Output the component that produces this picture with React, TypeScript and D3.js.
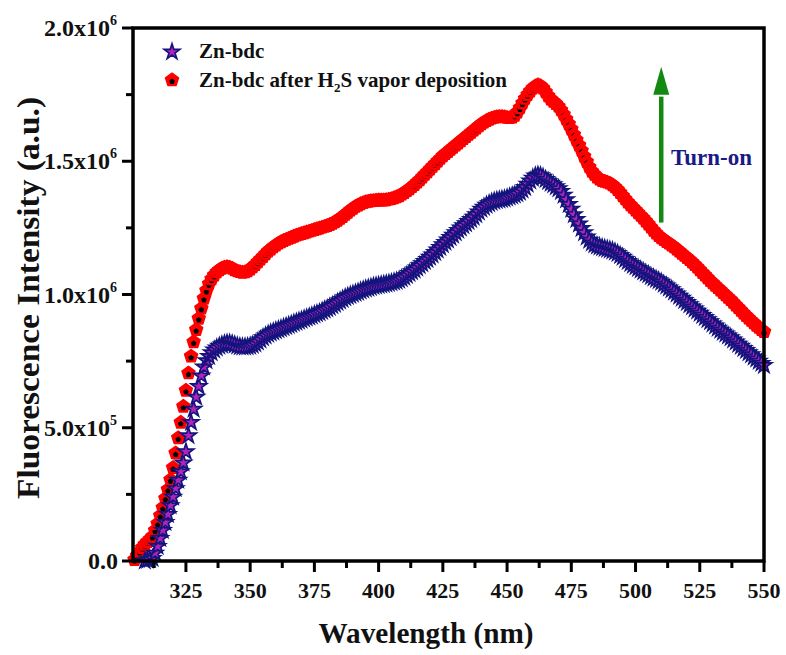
import React from 'react';
import * as d3 from 'd3';

const W = 786;
const H = 655;

// Wavelength grid start (1 nm sampling) and intensities in units of 10^3 a.u.
const RED_START = 305;
const RED_K = [
  5, 20, 35, 50, 62, 72, 82, 92, 115, 140,
  170, 200, 235, 268, 305, 350, 405, 462, 520, 580,
  640, 705, 768, 822, 868, 910, 948, 985, 1015, 1040,
  1058, 1072, 1084, 1092, 1098, 1102, 1104, 1102, 1098, 1092,
  1088, 1085, 1083, 1084, 1088, 1095, 1103, 1112, 1122, 1132,
  1142, 1152, 1162, 1170, 1178, 1185, 1192, 1197, 1202, 1206,
  1210, 1214, 1218, 1222, 1225, 1228, 1231, 1234, 1237, 1240,
  1243, 1246, 1249, 1252, 1255, 1258, 1262, 1266, 1272, 1278,
  1285, 1292, 1300, 1308, 1316, 1323, 1330, 1335, 1340, 1344,
  1347, 1349, 1351, 1352, 1353, 1354, 1354, 1354, 1355, 1357,
  1359, 1362, 1366, 1370, 1376, 1382, 1389, 1396, 1404, 1412,
  1421, 1430, 1440, 1450, 1460, 1470, 1480, 1490, 1500, 1510,
  1520, 1528, 1536, 1544, 1552, 1560, 1568, 1576, 1584, 1592,
  1600, 1608, 1616, 1624, 1632, 1640, 1646, 1652, 1657, 1661,
  1664, 1666, 1667, 1667, 1666, 1664, 1663, 1665, 1672, 1684,
  1700, 1718, 1735, 1750, 1763, 1774, 1782, 1786, 1783, 1774,
  1760, 1745, 1733, 1724, 1716, 1706, 1692, 1676, 1658, 1640,
  1620, 1600, 1580, 1560, 1540, 1518, 1498, 1478, 1462, 1450,
  1440, 1432, 1427, 1424, 1421, 1417, 1411, 1403, 1393, 1382,
  1370, 1358, 1346, 1336, 1326, 1316, 1306, 1296, 1286, 1275,
  1264, 1252, 1240, 1230, 1220, 1212, 1205, 1198, 1192, 1185,
  1178, 1170, 1162, 1154, 1146, 1138, 1130, 1121, 1112, 1102,
  1092, 1082, 1072, 1062, 1052, 1043, 1034, 1025, 1016, 1007,
  998, 989, 980, 970, 960, 950, 940, 930, 920, 911,
  902, 893, 884, 876, 868, 860,
];

const BLUE_START = 309;
const BLUE_K = [
  0, 3, 6, 10, 30, 55, 85, 115, 145, 175,
  208, 240, 272, 303, 335, 368, 410, 470, 520, 570,
  615, 655, 695, 728, 752, 768, 782, 792, 800, 806,
  811, 815, 817, 817, 815, 811, 807, 804, 803, 803,
  804, 806, 810, 815, 822, 830, 838, 845, 851, 856,
  860, 864, 868, 872, 876, 880, 884, 888, 892, 896,
  900, 904, 908, 912, 916, 920, 924, 928, 932, 937,
  942, 947, 952, 958, 964, 970, 976, 982, 988, 993,
  997, 1001, 1005, 1009, 1013, 1017, 1021, 1024, 1027, 1030,
  1032, 1034, 1036, 1038, 1040, 1042, 1044, 1047, 1050, 1054,
  1059, 1065, 1072, 1079, 1086, 1092, 1100, 1108, 1116, 1124,
  1132, 1140, 1149, 1158, 1167, 1177, 1187, 1196, 1205, 1214,
  1223, 1232, 1241, 1250, 1258, 1266, 1274, 1282, 1290, 1300,
  1310, 1320, 1328, 1335, 1341, 1346, 1350, 1353, 1355, 1357,
  1359, 1362, 1366, 1370, 1374, 1378, 1384, 1392, 1402, 1414,
  1426, 1437, 1445, 1448, 1446, 1440, 1432, 1424, 1418, 1412,
  1405, 1397, 1387, 1373, 1356, 1338, 1320, 1300, 1282, 1265,
  1248, 1232, 1216, 1204, 1194, 1187, 1182, 1179, 1176, 1173,
  1170, 1167, 1164, 1160, 1154, 1147, 1140, 1132, 1124, 1117,
  1110, 1104, 1098, 1092, 1086, 1080, 1074, 1068, 1062, 1057,
  1052, 1046, 1039, 1032, 1025, 1018, 1010, 1002, 994, 986,
  978, 970, 962, 954, 946, 938, 930, 922, 914, 906,
  898, 890, 882, 874, 866, 859, 852, 845, 838, 830,
  822, 814, 806, 798, 790, 782, 774, 766, 758, 750,
  742, 734,
];

const X_TICKS = [325, 350, 375, 400, 425, 450, 475, 500, 525, 550];
const X_MINOR = [312.5, 337.5, 362.5, 387.5, 412.5, 437.5, 462.5, 487.5, 512.5, 537.5];
const Y_TICKS = [0, 500000, 1000000, 1500000, 2000000];
const Y_MINOR = [250000, 750000, 1250000, 1750000];
const Y_TICK_MANT = ['0.0', '5.0x10', '1.0x10', '1.5x10', '2.0x10'];
const Y_TICK_EXP = ['', '5', '6', '6', '6'];

const SERIES_1 = 'Zn-bdc';
const SERIES_2_A = 'Zn-bdc after H';
const SERIES_2_SUB = '2';
const SERIES_2_B = 'S vapor deposition';
const X_TITLE = 'Wavelength (nm)';
const Y_TITLE = 'Fluorescence Intensity (a.u.)';
const ANNOT = 'Turn-on';

const FONT = '"Liberation Serif", "Times New Roman", serif';

function pentagonPath(r: number, dy = 0) {
  const pts: string[] = [];
  for (let k = 0; k < 5; k++) {
    const a = -Math.PI / 2 + (k * 2 * Math.PI) / 5;
    pts.push(`${(r * Math.cos(a)).toFixed(2)},${(r * Math.sin(a) + dy).toFixed(2)}`);
  }
  return 'M' + pts.join('L') + 'Z';
}

function RedMarker({ tx, ty }: { tx: number; ty: number }) {
  return (
    <g transform={`translate(${tx},${ty})`}>
      <path d={pentagonPath(6.8)} fill="#ff0000" stroke="#ff0000" strokeWidth={1.5} strokeLinejoin="round" />
      <path d={pentagonPath(3, 1.5)} fill="#000" />
    </g>
  );
}

export default function App() {
  const x = d3.scaleLinear().domain([304.4, 550]).range([133, 764]);
  const y = d3.scaleLinear().domain([0, 2000000]).range([561, 28]);

  const red = RED_K.map((v, i) => ({ w: RED_START + i, v: v * 1000 }));
  const blue = BLUE_K.map((v, i) => ({ w: BLUE_START + i, v: v * 1000 }));

  const star = d3.symbol().type(d3.symbolStar).size(75)() as string;

  const x0 = x.range()[0];
  const x1 = x.range()[1];
  const y0 = y.range()[0];
  const y1 = y.range()[1];

  const arrowX = x(510);
  const arrowBottom = y(1270000);
  const arrowHeadBase = y(1750000);
  const arrowTip = y(1855000);

  return (
    <svg
      width={W}
      height={H}
      style={{ position: 'absolute', left: 0, top: 0, background: '#fff' }}
      fontFamily={FONT}
      fontWeight="bold"
    >
      <rect x={0} y={0} width={W} height={H} fill="#fff" />

      {/* red series: pentagons */}
      <g>
        {red.map((d, i) => (
          <RedMarker key={'r' + i} tx={x(d.w)} ty={y(d.v)} />
        ))}
      </g>
      {/* blue series: stars */}
      <g>
        {blue.map((d, i) => (
          <path
            key={'b' + i}
            d={star}
            transform={`translate(${x(d.w)},${y(d.v)})`}
            fill="#b025b8"
            stroke="#14147e"
            strokeWidth={1.7}
            strokeLinejoin="miter"
          />
        ))}
      </g>

      {/* frame */}
      <rect
        x={x0}
        y={y1}
        width={x1 - x0}
        height={y0 - y1}
        fill="none"
        stroke="#000"
        strokeWidth={3.5}
      />

      {/* x ticks */}
      {X_TICKS.map((t) => (
        <g key={'xt' + t}>
          <line x1={x(t)} x2={x(t)} y1={y0} y2={y0 + 11} stroke="#000" strokeWidth={3} />
          <text x={x(t)} y={598} textAnchor="middle" fontSize={22} fill="#111">
            {t}
          </text>
        </g>
      ))}
      {X_MINOR.map((t) => (
        <line key={'xm' + t} x1={x(t)} x2={x(t)} y1={y0} y2={y0 + 7} stroke="#000" strokeWidth={3} />
      ))}

      {/* y ticks */}
      {Y_TICKS.map((t, i) => (
        <g key={'yt' + t}>
          <line x1={x0 - 11} x2={x0} y1={y(t)} y2={y(t)} stroke="#000" strokeWidth={3} />
          <text
            x={Y_TICK_EXP[i] ? 110 : 118}
            y={y(t) + 8}
            textAnchor="end"
            fontSize={24}
            fill="#111"
          >
            {Y_TICK_MANT[i]}
          </text>
          {Y_TICK_EXP[i] && (
            <text x={110} y={y(t) - 3} fontSize={14} fill="#111">
              {Y_TICK_EXP[i]}
            </text>
          )}
        </g>
      ))}
      {Y_MINOR.map((t) => (
        <line key={'ym' + t} x1={x0 - 7} x2={x0} y1={y(t)} y2={y(t)} stroke="#000" strokeWidth={3} />
      ))}

      {/* axis titles */}
      <text
        x={426}
        y={643}
        textAnchor="middle"
        fontSize={30}
        textLength={215}
        lengthAdjust="spacingAndGlyphs"
        fill="#111"
      >
        {X_TITLE}
      </text>
      <text
        transform={`translate(39,298) rotate(-90)`}
        textAnchor="middle"
        fontSize={32}
        textLength={402}
        lengthAdjust="spacingAndGlyphs"
        fill="#111"
      >
        {Y_TITLE}
      </text>

      {/* legend */}
      <g>
        <path
          d={star}
          transform="translate(172,52)"
          fill="#b025b8"
          stroke="#14147e"
          strokeWidth={1.7}
        />
        <text x={199} y={58} fontSize={21} fill="#111">
          {SERIES_1}
        </text>
        <RedMarker tx={172} ty={80} />
        <text x={199} y={87} fontSize={21} fill="#111">
          {SERIES_2_A}
          <tspan dy={5} fontSize={13}>
            {SERIES_2_SUB}
          </tspan>
          <tspan dy={-5}>{SERIES_2_B}</tspan>
        </text>
      </g>

      {/* annotation arrow */}
      <line
        x1={arrowX}
        x2={arrowX}
        y1={arrowBottom}
        y2={arrowHeadBase + 2}
        stroke="#128a12"
        strokeWidth={4.5}
      />
      <path
        d={`M${arrowX},${arrowTip} L${arrowX + 8},${arrowHeadBase} L${arrowX - 8},${arrowHeadBase} Z`}
        fill="#128a12"
      />
      <text x={x(513.8)} y={165} fontSize={23} fill="#1a1a86">
        {ANNOT}
      </text>
    </svg>
  );
}
